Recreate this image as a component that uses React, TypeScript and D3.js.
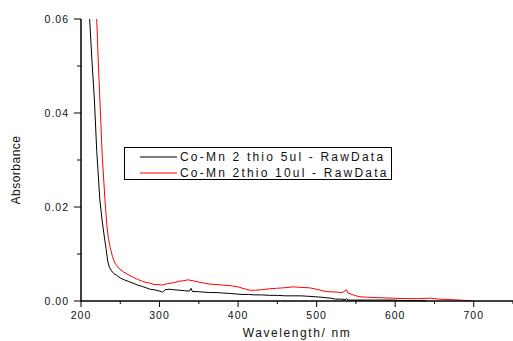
import { useRef, useEffect } from "react";
import * as d3 from "d3";

type Pt = [number, number];

// wavelength (nm), absorbance
const blackSeries: Pt[] = [
  [211, 0.06], [214, 0.051], [217, 0.043], [220, 0.032], [224, 0.0215], [227, 0.017],
  [229, 0.0145], [232, 0.011], [234, 0.0085], [236, 0.0072], [239, 0.0064], [242, 0.0058], [245, 0.0055],
  [250, 0.0049], [255, 0.0045], [260, 0.0042], [266, 0.0038], [272, 0.0034], [278, 0.0031],
  [283, 0.0028], [288, 0.0025], [293, 0.0024], [298, 0.0022], [302, 0.002], [304, 0.0019],
  [307, 0.0024], [312, 0.0025], [318, 0.0024], [325, 0.0023], [332, 0.0022], [338, 0.0021],
  [340, 0.0027], [342, 0.002], [348, 0.002], [355, 0.0019], [364, 0.0018], [372, 0.0018],
  [380, 0.0017], [390, 0.0016], [397, 0.0015], [405, 0.0014], [413, 0.0014], [421, 0.0013],
  [430, 0.0013], [440, 0.0012], [450, 0.0012], [460, 0.0011], [470, 0.0011], [480, 0.0011],
  [490, 0.001], [499, 0.0009], [506, 0.0008], [512, 0.0007], [518, 0.0006], [524, 0.0004],
  [530, 0.0004], [537, 0.0003], [538, 0.0005], [540, 0.0002], [548, 0.0002], [555, 0.0002],
  [565, 0.0002], [575, 0.0002], [585, 0.0002], [597, 0.0002], [610, 0.0001], [620, 0.0001],
  [630, 0.0001], [640, 0.0],
];

const redSeries: Pt[] = [
  [220, 0.06], [222, 0.051], [224, 0.043], [227, 0.031], [230.5, 0.0215], [233, 0.016],
  [235, 0.0133], [237, 0.0115], [240, 0.0095], [243, 0.0081], [248, 0.007], [254, 0.0062], [260, 0.0056],
  [266, 0.0051], [272, 0.0046], [278, 0.0042], [284, 0.0039], [288, 0.0038], [293, 0.0035],
  [298, 0.0035], [304, 0.0034], [310, 0.0037], [318, 0.0039], [325, 0.0042], [330, 0.0043],
  [336, 0.0045], [343, 0.0043], [350, 0.004], [357, 0.0038], [364, 0.0036], [372, 0.0035],
  [380, 0.0034], [387, 0.0033], [393, 0.0032], [400, 0.003], [408, 0.0026], [415, 0.0023],
  [422, 0.0023], [430, 0.0024], [440, 0.0026], [449, 0.0027], [458, 0.0028], [470, 0.003],
  [480, 0.0029], [491, 0.0028], [500, 0.0025], [512, 0.002], [525, 0.0019], [533, 0.0018],
  [538, 0.0024], [540, 0.0017], [548, 0.0012], [555, 0.0009], [565, 0.0008], [580, 0.0007],
  [597, 0.0006], [615, 0.0005], [630, 0.0005], [645, 0.0006], [655, 0.0004], [670, 0.0003],
  [682, 0.0002], [692, 0.0001], [700, 0.0],
];

const xTicks = [200, 300, 400, 500, 600, 700];
const xMinorTicks = [250, 350, 450, 550, 650, 750];
const yTicks = [0, 0.02, 0.04, 0.06];
const yMinorTicks = [0.01, 0.03, 0.05];

const legendLabels = ["Co-Mn 2 thio 5ul - RawData", "Co-Mn 2thio 10ul - RawData"];
const seriesColors = ["#000000", "#ff0000"];

const W = 513;
const H = 341;
const FONT = "'Liberation Sans', Arial, sans-serif";

export default function App() {
  const svgRef = useRef<SVGSVGElement>(null);

  useEffect(() => {
    if (!svgRef.current) return;
    const svg = d3.select(svgRef.current);
    svg.selectAll("*").remove();

    const x = d3.scaleLinear().domain([200, 750]).range([81, 513]);
    const y = d3.scaleLinear().domain([0, 0.06]).range([301, 19]);

    svg.append("rect").attr("width", W).attr("height", H).attr("fill", "white");

    // curves
    const line = d3
      .line<Pt>()
      .x((d) => x(d[0]))
      .y((d) => y(d[1]));

    [blackSeries, redSeries].forEach((s, i) => {
      svg
        .append("path")
        .datum(s)
        .attr("fill", "none")
        .attr("stroke", seriesColors[i])
        .attr("stroke-width", 1)
        .attr("d", line);
    });

    // x axis
    const xAxis = svg.append("g").attr("transform", `translate(0,${y(0)})`);
    xAxis
      .append("line")
      .attr("x1", x(200))
      .attr("x2", W)
      .attr("stroke", "black")
      .attr("stroke-width", 1.5);
    xTicks.forEach((t) => {
      xAxis.append("line").attr("x1", x(t)).attr("x2", x(t)).attr("y1", 0).attr("y2", 6).attr("stroke", "black");
      xAxis
        .append("text")
        .attr("x", x(t))
        .attr("y", 18)
        .attr("text-anchor", "middle")
        .attr("font-family", FONT)
        .attr("font-size", 10.5)
        .attr("letter-spacing", 1)
        .attr("fill", "#111")
        .text(d3.format("d")(t));
    });
    xMinorTicks.forEach((t) => {
      xAxis.append("line").attr("x1", x(t)).attr("x2", x(t)).attr("y1", 0).attr("y2", 3).attr("stroke", "black");
    });

    // y axis
    const yAxis = svg.append("g").attr("transform", `translate(${x(200)},0)`);
    yAxis
      .append("line")
      .attr("y1", y(0.06))
      .attr("y2", y(0) + 0.75)
      .attr("stroke", "black")
      .attr("stroke-width", 1.5);
    yTicks.forEach((t) => {
      yAxis.append("line").attr("x1", 0).attr("x2", -7).attr("y1", y(t)).attr("y2", y(t)).attr("stroke", "black");
      yAxis
        .append("text")
        .attr("x", -12)
        .attr("y", y(t) + 4)
        .attr("text-anchor", "end")
        .attr("font-family", FONT)
        .attr("font-size", 10.5)
        .attr("letter-spacing", 1)
        .attr("fill", "#111")
        .text(d3.format(".2f")(t));
    });
    yMinorTicks.forEach((t) => {
      yAxis.append("line").attr("x1", 0).attr("x2", -4).attr("y1", y(t)).attr("y2", y(t)).attr("stroke", "black");
    });

    // axis titles
    svg
      .append("text")
      .attr("x", 297)
      .attr("y", 337)
      .attr("text-anchor", "middle")
      .attr("font-family", FONT)
      .attr("font-size", 12)
      .attr("letter-spacing", 1.6)
      .attr("fill", "#111")
      .text("Wavelength/ nm");

    svg
      .append("text")
      .attr("transform", `translate(20,170) rotate(-90)`)
      .attr("text-anchor", "middle")
      .attr("font-family", FONT)
      .attr("font-size", 12)
      .attr("letter-spacing", 0.5)
      .attr("fill", "#111")
      .text("Absorbance");

    // legend
    const lg = svg.append("g");
    lg.append("rect")
      .attr("x", 124.5)
      .attr("y", 147.5)
      .attr("width", 267)
      .attr("height", 32)
      .attr("fill", "white")
      .attr("stroke", "black")
      .attr("stroke-width", 1);
    legendLabels.forEach((lab, i) => {
      const ly = 157 + i * 16;
      lg.append("line")
        .attr("x1", 140)
        .attr("x2", 177)
        .attr("y1", ly)
        .attr("y2", ly)
        .attr("stroke", seriesColors[i])
        .attr("stroke-width", 1);
      lg.append("text")
        .attr("x", 180)
        .attr("y", ly + 4)
        .attr("font-family", FONT)
        .attr("font-size", 12)
        .attr("letter-spacing", 2.2)
        .attr("fill", "#111")
        .text(lab);
    });
  }, []);

  return (
    <svg
      ref={svgRef}
      width={W}
      height={H}
      style={{ position: "absolute", left: 0, top: 0, display: "block" }}
    />
  );
}
